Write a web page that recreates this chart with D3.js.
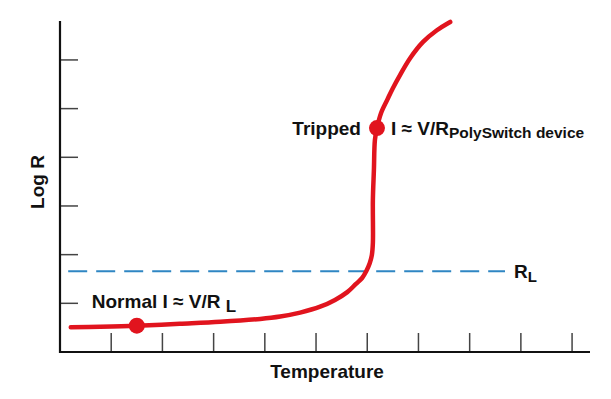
<!DOCTYPE html>
<html>
<head>
<meta charset="utf-8">
<script src="https://cdn.jsdelivr.net/npm/d3@7"></script>
<style>
  body { margin: 0; background: #fff; }
  text { font-family: "Liberation Sans", Arial, sans-serif; font-weight: bold; fill: #111; }
</style>
</head>
<body>
<script>
// curve values (temperature in tick units, log R in tick units)
const temperature = [0.21, 0.78, 1.50, 2.34, 3.13, 3.91, 4.30, 4.69, 5.08, 5.37, 5.61, 5.78, 5.90, 5.98, 6.05, 6.09, 6.11, 6.11, 6.13, 6.15, 6.19, 6.27, 6.39, 6.50, 6.64, 6.84, 7.09, 7.36, 7.62];
const logR =        [0.51, 0.52, 0.54, 0.58, 0.62, 0.68, 0.73, 0.81, 0.93, 1.07, 1.23, 1.40, 1.52, 1.66, 1.83, 1.99, 2.24, 3.12, 3.74, 4.36, 4.60, 4.91, 5.18, 5.42, 5.69, 6.04, 6.37, 6.61, 6.78];

const xTicks = [1, 2, 3, 4, 5, 6, 7, 8, 9, 10];
const yTicks = [1, 2, 3, 4, 5, 6];

const normalPoint = { t: 1.50, r: 0.54 };
const trippedPoint = { t: 6.19, r: 4.60 };
const rLoad = 1.66;
const rLoadSpan = [0.16, 8.69];

const width = 611, height = 399;

const x = d3.scaleLinear().domain([0, 10.35]).range([60, 590]);
const y = d3.scaleLinear().domain([0, 6.8]).range([352, 21]);

const svg = d3.select("body").append("svg")
  .attr("width", width)
  .attr("height", height);

// ticks (inside the plot)
svg.append("g")
  .selectAll("line")
  .data(xTicks)
  .join("line")
  .attr("x1", d => x(d)).attr("x2", d => x(d))
  .attr("y1", y(0)).attr("y2", y(0) - 19)
  .attr("stroke", "#444").attr("stroke-width", 1.5);

svg.append("g")
  .selectAll("line")
  .data(yTicks)
  .join("line")
  .attr("x1", x(0)).attr("x2", x(0) + 18)
  .attr("y1", d => y(d)).attr("y2", d => y(d))
  .attr("stroke", "#444").attr("stroke-width", 1.5);

// axes lines
svg.append("path")
  .attr("d", `M${x(0)},${y(6.8)} V${y(0)} H${x(10.35)}`)
  .attr("fill", "none")
  .attr("stroke", "#111")
  .attr("stroke-width", 2.2);

// R_L dashed line
svg.append("line")
  .attr("x1", x(rLoadSpan[0])).attr("x2", x(rLoadSpan[1]))
  .attr("y1", y(rLoad)).attr("y2", y(rLoad))
  .attr("stroke", "#2f86c3")
  .attr("stroke-width", 2)
  .attr("stroke-dasharray", "19,9");

// PTC curve
const pts = temperature.map((t, i) => [t, logR[i]]);
const line = d3.line()
  .x(d => x(d[0]))
  .y(d => y(d[1]))
  .curve(d3.curveCatmullRom.alpha(0.5));

svg.append("path")
  .datum(pts)
  .attr("d", line)
  .attr("fill", "none")
  .attr("stroke", "#e1141e")
  .attr("stroke-width", 4.5)
  .attr("stroke-linecap", "round");

svg.selectAll("circle.pt")
  .data([normalPoint, trippedPoint])
  .join("circle")
  .attr("class", "pt")
  .attr("cx", d => x(d.t))
  .attr("cy", d => y(d.r))
  .attr("r", 8)
  .attr("fill", "#e1141e");

// labels
const nx = x(normalPoint.t), ny = y(normalPoint.r);
const normal = svg.append("text")
  .attr("x", nx - 45).attr("y", ny - 18)
  .style("font-size", "19px");
normal.append("tspan").text("Normal I ≈ V/R ");
normal.append("tspan").attr("dy", 4).style("font-size", "17px").text("L");

const tx = x(trippedPoint.t), ty = y(trippedPoint.r);
svg.append("text")
  .attr("x", tx - 16).attr("y", ty + 7)
  .attr("text-anchor", "end")
  .style("font-size", "19px")
  .text("Tripped");

const trip = svg.append("text")
  .attr("x", tx + 14).attr("y", ty + 7)
  .style("font-size", "19px");
trip.append("tspan").text("I ≈ V/R");
trip.append("tspan").attr("dy", 3).style("font-size", "15.5px").text("PolySwitch device");

const rl = svg.append("text")
  .attr("x", x(rLoadSpan[1]) + 9).attr("y", y(rLoad) + 7)
  .style("font-size", "19px");
rl.append("tspan").text("R");
rl.append("tspan").attr("dy", 4).style("font-size", "15px").text("L");

// axis titles
svg.append("text")
  .attr("x", 327)
  .attr("y", 378)
  .attr("text-anchor", "middle")
  .style("font-size", "19px")
  .text("Temperature");

svg.append("text")
  .attr("transform", "translate(44,182) rotate(-90)")
  .attr("text-anchor", "middle")
  .style("font-size", "19px")
  .text("Log R");
</script>
</body>
</html>
